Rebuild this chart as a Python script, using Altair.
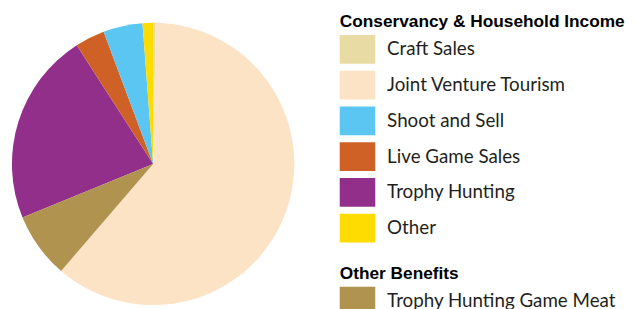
import altair as alt
import pandas as pd

# Slices in drawing order (clockwise from 12 o'clock)
categories = ["Craft Sales", "Joint Venture Tourism", "Trophy Hunting Game Meat",
              "Trophy Hunting", "Live Game Sales", "Shoot and Sell", "Other"]
values = [0.3, 61.0, 7.5, 22.1, 3.4, 4.5, 1.2]
groups = ["income", "income", "other", "income", "income", "income", "income"]

income_legend = ["Craft Sales", "Joint Venture Tourism", "Shoot and Sell",
                 "Live Game Sales", "Trophy Hunting", "Other"]
income_colors = ["#E8DCA4", "#FCE3C6", "#5CC6F2", "#CF6126", "#922F8A", "#FFDC00"]
other_legend = ["Trophy Hunting Game Meat"]
other_colors = ["#B0934E"]

df = pd.DataFrame({"category": categories, "value": values, "group": groups,
                   "order": list(range(len(categories)))})

swatch = "M-1,-0.8056H1V0.8056H-1Z"

def legend(title, y, tpad):
    return alt.Legend(
        title=title, orient="none", legendX=336, legendY=y,
        symbolType=swatch, symbolSize=1296, symbolStrokeWidth=0, symbolOpacity=1,
        labelFont="Lato", labelFontSize=19, labelColor="#231f20", labelOffset=12,
        labelLimit=400, rowPadding=3.2,
        titleFont="Liberation Sans", titleFontWeight="bold", titleFontSize=17.5,
        titleColor="#000000", titlePadding=tpad, titleLimit=400,
    )

base = alt.Chart(df).transform_window(
    cum="sum(value)", sort=[alt.SortField("order")], frame=[None, 0]
).transform_calculate(start="datum.cum - datum.value")

theta = alt.Theta("start:Q", scale=alt.Scale(domain=[0, 100]))

income = base.transform_filter(alt.datum.group == "income").mark_arc(radius=143).encode(
    theta=theta, theta2="cum:Q",
    x=alt.value(147), y=alt.value(156),
    color=alt.Color("category:N",
                    scale=alt.Scale(domain=income_legend, range=income_colors),
                    legend=legend("Conservancy & Household Income", 3, 1.5)),
)

other = base.transform_filter(alt.datum.group == "other").mark_arc(radius=143).encode(
    theta=theta, theta2="cum:Q",
    x=alt.value(147), y=alt.value(156),
    color=alt.Color("category:N",
                    scale=alt.Scale(domain=other_legend, range=other_colors),
                    legend=legend("Other Benefits", 259, 0.5)),
)

chart = alt.layer(income, other).resolve_scale(color="independent").properties(
    width=629, height=301, padding=0,
    autosize=alt.AutoSizeParams(type="none"),
).configure_view(strokeWidth=0)

chart.save("out.html", embed_options={"renderer": "svg", "actions": False})
